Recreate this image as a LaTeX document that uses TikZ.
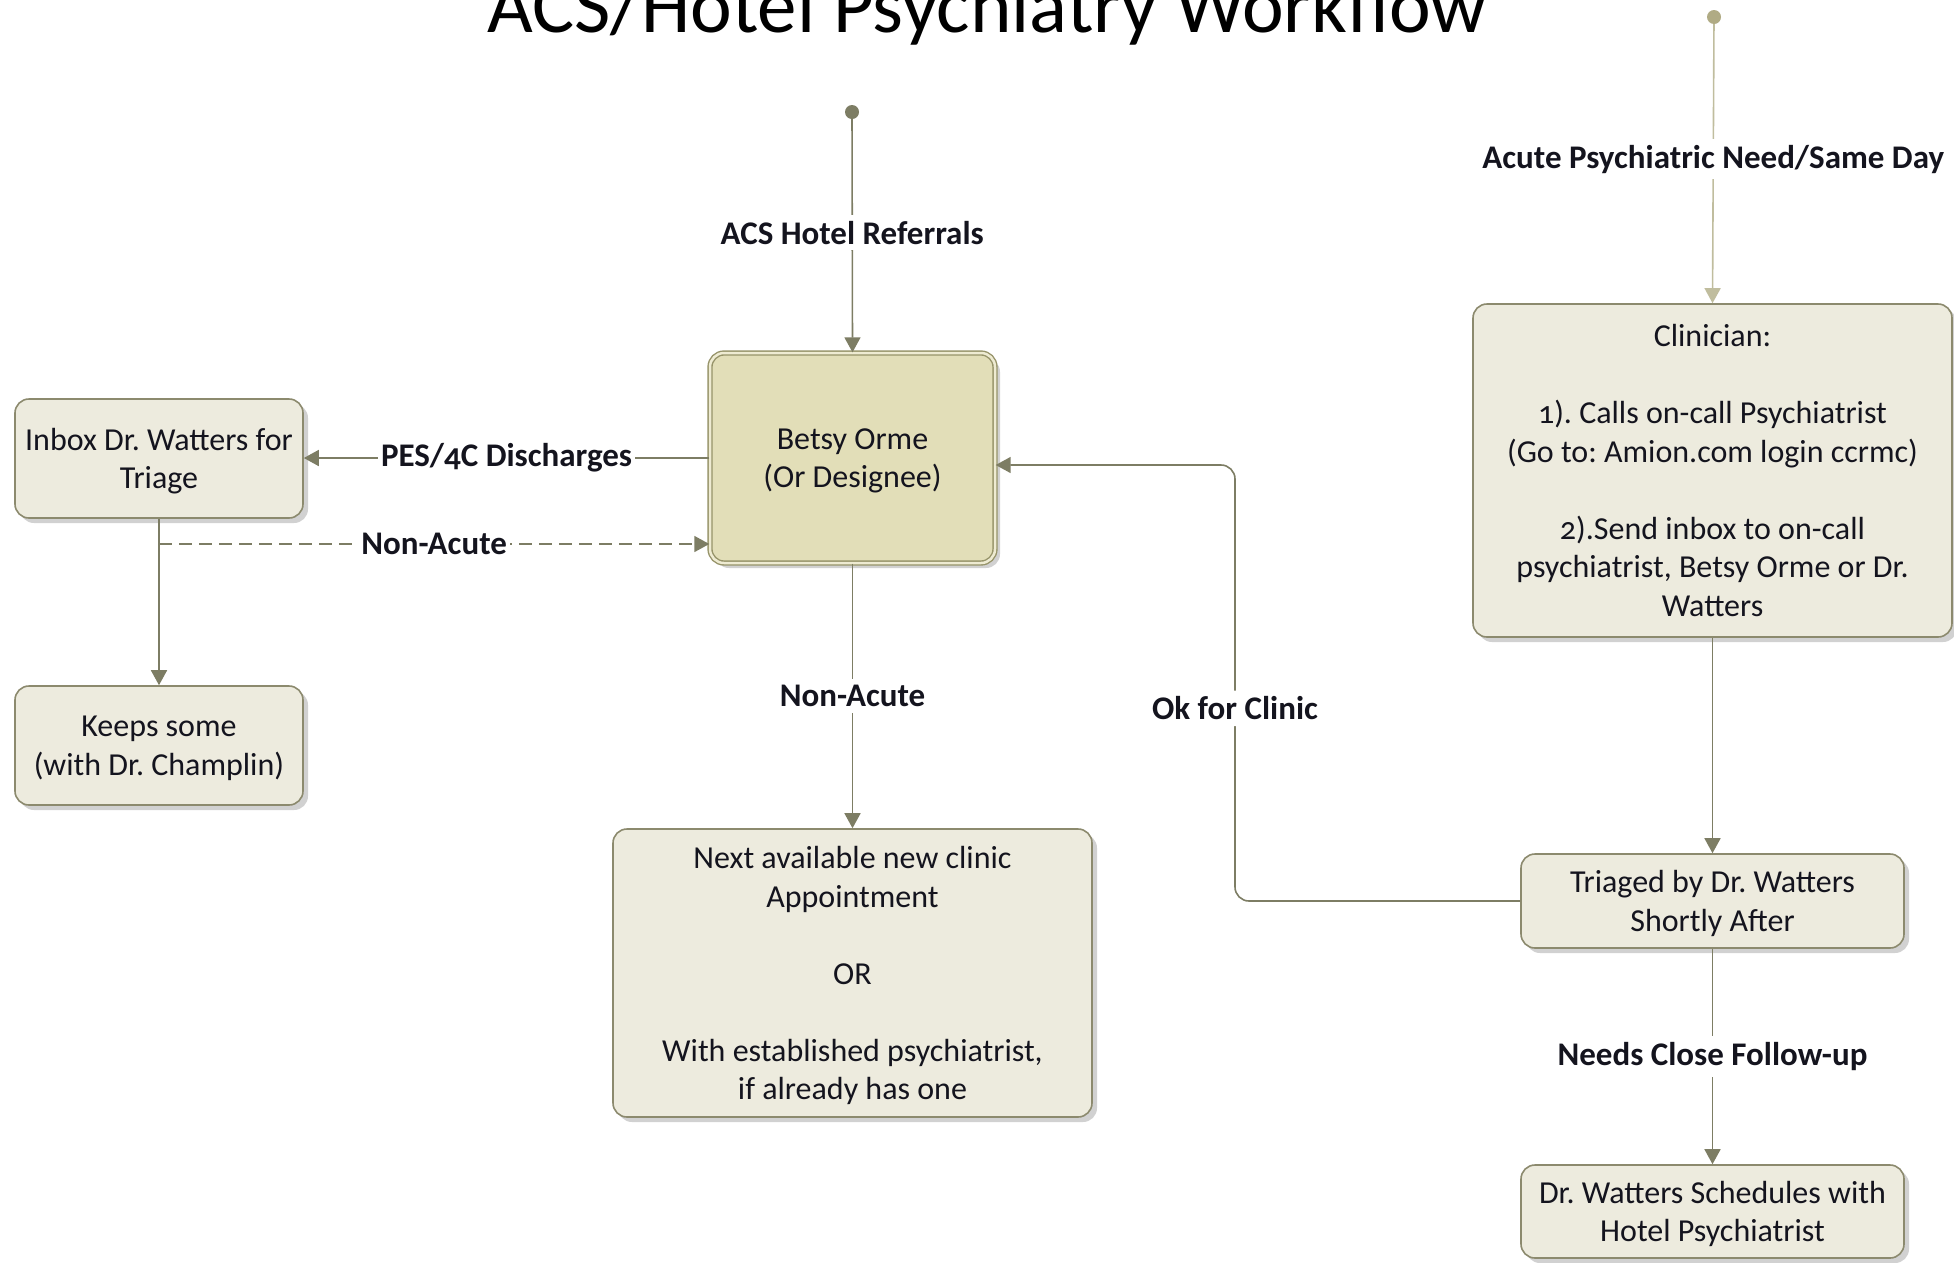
\documentclass[tikz,border=0pt]{standalone}
\usepackage{fontspec}
\setmainfont{Carlito}[Numbers=OldStyle]
\usetikzlibrary{arrows.meta,shadows}
\frenchspacing

\definecolor{boxfill}{RGB}{237,235,222}
\definecolor{boxline}{RGB}{140,138,110}
\definecolor{keyfill}{RGB}{226,222,184}
\definecolor{keyline}{RGB}{150,147,105}
\definecolor{keygap}{RGB}{238,235,210}
\definecolor{flow}{RGB}{125,125,100}
\definecolor{flowlight}{RGB}{192,189,158}
\definecolor{dotlight}{RGB}{176,171,132}
\definecolor{ink}{RGB}{20,20,30}

\tikzset{
  stepbox/.style={draw=boxline, line width=1.6pt, fill=boxfill, rounded corners=14pt,
    align=center, text=ink, font=\fontsize{32}{38.5}\selectfont, inner sep=0pt,
    text depth=0pt,
    drop shadow={shadow xshift=5pt, shadow yshift=-5pt, fill=black, opacity=0.18}},
  keybox/.style={stepbox, fill=keyfill, draw=keyline, double=keygap,
    double distance=2.5pt, line width=1.4pt},
  flowline/.style={draw=flow, line width=1.6pt, -{Triangle[length=15pt,width=16pt]}},
  lbl/.style={fill=white, font=\bfseries\fontsize{33}{38}\selectfont, text=ink,
    inner xsep=3pt, inner ysep=6pt},
  startdot/.style={circle, fill=flow, inner sep=0pt, minimum size=14pt},
}

\begin{document}
\begin{tikzpicture}[x=1pt, y=-1pt]
  \useasboundingbox (0,0) rectangle (1954,1262);

  % heading
  \node[anchor=base, font=\fontsize{79}{79}\selectfont, text=black] (title) at (987,32)
    {ACS/Hotel Psychiatry Workflow};

  % entry points
  \node[startdot] (srcA) at (852,112) {};
  \node[startdot, fill=dotlight] (srcB) at (1714,17) {};

  % process boxes
  \node[keybox, minimum width=285pt, minimum height=210pt] (betsy) at (852.5,458)
    {Betsy Orme\\(Or Designee)};
  \node[stepbox, minimum width=288pt, minimum height=119pt] (inbox) at (159,458.5)
    {Inbox Dr. Watters for\\Triage};
  \node[stepbox, minimum width=288pt, minimum height=119pt] (keeps) at (159,745.5)
    {Keeps some\\(with Dr. Champlin)};
  \node[stepbox, minimum width=479pt, minimum height=288pt] (next) at (852.5,973)
    {Next available new clinic\\Appointment\\[38.5pt]OR\\[38.5pt]With established psychiatrist,\\if already has one};
  \node[stepbox, minimum width=479pt, minimum height=333pt] (clin) at (1712.5,470.5)
    {Clinician:\\[38.5pt]1). Calls on-call Psychiatrist\\(Go to: Amion.com login ccrmc)\\[38.5pt]2).Send inbox to on-call\\psychiatrist, Betsy Orme or Dr.\\Watters};
  \node[stepbox, minimum width=383pt, minimum height=94pt] (triaged) at (1712.5,901)
    {Triaged by Dr. Watters\\Shortly After};
  \node[stepbox, minimum width=383pt, minimum height=93pt] (sched) at (1712.5,1211.5)
    {Dr. Watters Schedules with\\Hotel Psychiatrist};

  % helper rows for the bent and dashed connectors
  \coordinate (nonacute) at (0,544);
  \coordinate (okturn) at (1235,465);

  % connectors
  \draw[flowline] (srcA) -- node[lbl, pos=0.487] {ACS Hotel Referrals} (betsy.north);
  \draw[flowline, draw=flowlight] (srcB) -- node[lbl, pos=0.484] {Acute Psychiatric Need/Same Day} (clin.north);
  \draw[flowline] (betsy.west) -- node[lbl] {PES/4C Discharges} (inbox.east |- betsy.west);
  \draw[flowline] (inbox.south) -- (keeps.north);
  \draw[flowline, dash pattern=on 13pt off 7pt] (inbox.south |- nonacute)
    -- node[lbl] {Non-Acute} (betsy.west |- nonacute);
  \draw[flowline] (betsy.south) -- node[lbl] {Non-Acute} (next.north);
  \draw[flowline] (clin.south) -- (triaged.north);
  \draw[flowline, rounded corners=14pt] (triaged.west) -| node[lbl, pos=0.721] {Ok for Clinic}
    (okturn) -- (betsy.east |- okturn);
  \draw[flowline] (triaged.south) -- node[lbl] {Needs Close Follow-up} (sched.north);
\end{tikzpicture}
\end{document}
